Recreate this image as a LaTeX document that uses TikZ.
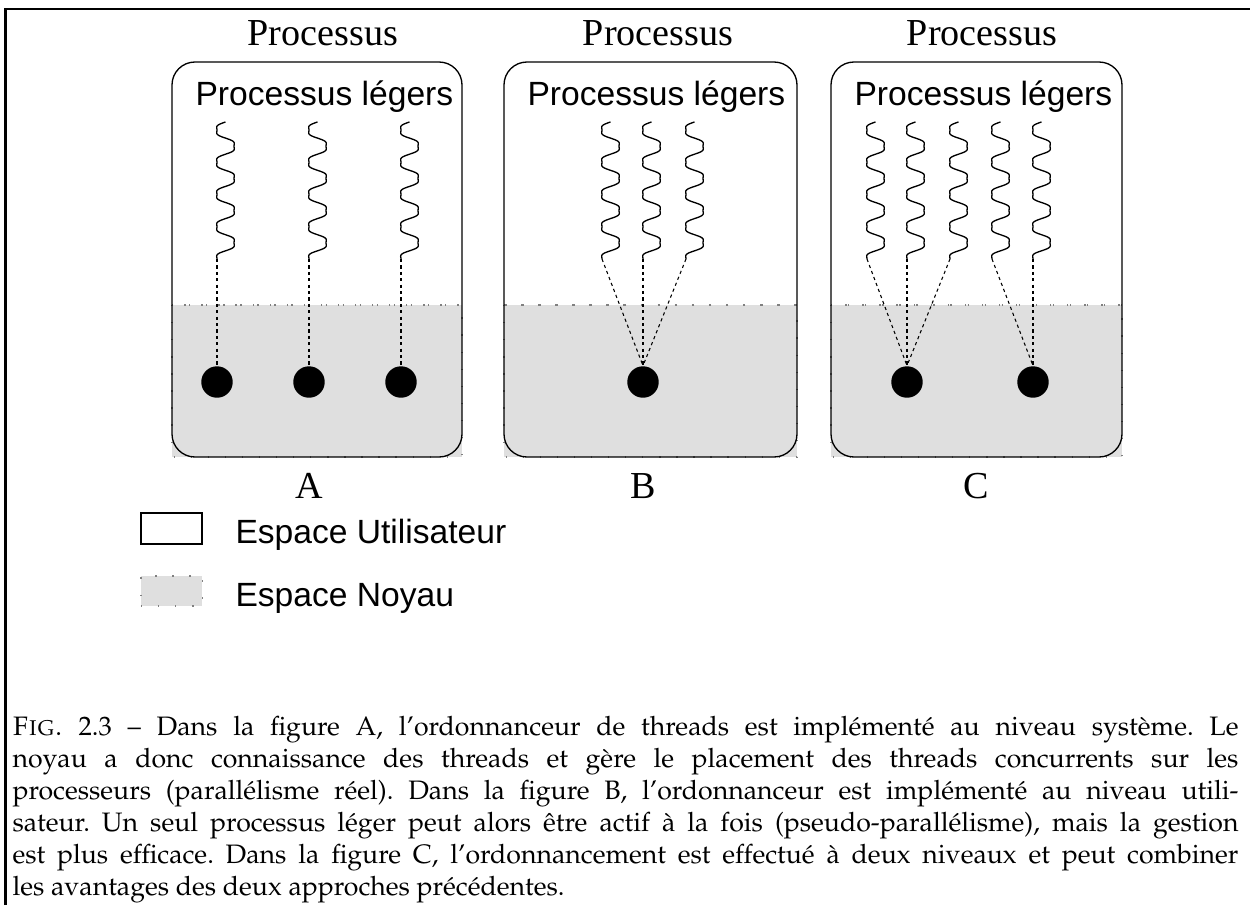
\documentclass[tikz,border=0pt]{standalone}
\usepackage[T1]{fontenc}
\usepackage{fontspec}
\usepackage{tikz}
\newfontfamily\helv{Liberation Sans}
\newfontfamily\headserif{Liberation Serif}
\usetikzlibrary{positioning}
\definecolor{kerngray}{gray}{0.875}
\tikzset{proc/.style = {draw, line width = 0.5pt, rounded corners = 8.6pt}}
\tikzset{kernel/.style = {fill = kerngray, draw = black!50, line width = 0.4pt,
                          dash pattern = on 0.5pt off 5.9pt}}
\tikzset{ball/.style = {fill, circle, inner sep = 0, minimum size = 11.8pt}}
\tikzset{link/.style = {line width = 0.4pt, dash pattern = on 1.2pt off 1.2pt}}
\tikzset{lwp/.style = {font = \helv\fontsize{12.6}{15}\selectfont, anchor = base west, inner sep = 0}}
\tikzset{head/.style = {font = \headserif\fontsize{14.3}{17}\selectfont, anchor = base, inner sep = 0}}
\tikzset{thread/.pic = {
    \draw [line width = 0.5pt, domain = 0:137, samples = 150, smooth, variable = \t]
      plot ({8.5 - 10.2*(sin(11.18*\t) + sin(33.54*\t)/6)}, \t);
    \coordinate (-end) at (0, 137);}}

\begin{document}
\begin{tikzpicture}[x=0.375pt, y=-0.375pt]
    \useasboundingbox (0, 0) rectangle (1250, 905);
    \draw [line width = 0.9pt] (5.5, 905) -- (5.5, 9) -- (1250, 9);

    % the three processes
    \foreach \l/\r/\lab/\lx/\hx in {172/462/A/309/323, 504/797/B/643/658, 831/1122/C/976/982} {
      \fill [kernel] (\l, 305) rectangle (\r, 457);
      \draw [kernel, fill = none] (\l, 305) -- (\r, 305);
      \draw [proc] (\l, 62) rectangle (\r, 457);
      \node [lwp] (lwp\lab) at (\l + 23, 105) {Processus légers};
      \node [head] (proc\lab) at (\hx, 45) {Processus};
      \node [head] (name\lab) at (\lx, 498) {\lab};
    }

    % A : one kernel thread per user thread
    \foreach \n/\x in {1/217, 2/309, 3/401} {
      \pic (tA\n) at (\x, 122) {thread};
      \node [ball] (bA\n) at (\x, 382) {};
      \draw [link] (tA\n-end) -- (bA\n.north);
    }

    % B : all on one
    \node [ball] (bB) at (643, 382) {};
    \foreach \n/\x in {1/602, 2/643, 3/686} {
      \pic (tB\n) at (\x, 122) {thread};
      \draw [link] (tB\n-end) -- (bB.north);
    }

    % C : two levels
    \node [ball] (bC1) at (907, 382) {};
    \node [ball] (bC2) at (1033, 382) {};
    \foreach \n/\x/\k in {1/867/1, 2/907/1, 3/950/1, 4/992/2, 5/1033/2} {
      \pic (tC\n) at (\x, 122) {thread};
      \draw [link] (tC\n-end) -- (bC\k.north);
    }

    % legend
    \node [draw, line width = 0.5pt, inner sep = 0, minimum width = 22.9pt, minimum height = 11.6pt]
      (userkey) at (171.5, 528.5) {};
    \node [kernel, inner sep = 0, minimum width = 22.9pt, minimum height = 11.25pt]
      (kernkey) at (171.5, 591) {};
    \node [lwp] (usertxt) at (235, 543) {Espace Utilisateur};
    \node [lwp] (kerntxt) at (235, 606) {Espace Noyau};

    \node [anchor = north west, inner sep = 0, text width = 459.75pt, align = justify,
           font = {\fontencoding{T1}\fontfamily{ppl}\fontsize{10}{12}\selectfont\frenchspacing}]
      (caption) at (12, 712.6) {\strut\textsc{Fig.} 2.3 -- Dans la figure A, l'ordonnanceur de threads est implémenté au niveau système. Le\linebreak
      noyau a donc connaissance des threads et gère le placement des threads concurrents sur les\linebreak
      processeurs (parallélisme réel). Dans la figure B, l'ordonnanceur est implémenté au niveau utili-\linebreak
      sateur. Un seul processus léger peut alors être actif à la fois (pseudo-parallélisme), mais la gestion\linebreak
      est plus efficace. Dans la figure C, l'ordonnancement est effectué à deux niveaux et peut combiner\linebreak
      les avantages des deux approches précédentes.};
\end{tikzpicture}
\end{document}
